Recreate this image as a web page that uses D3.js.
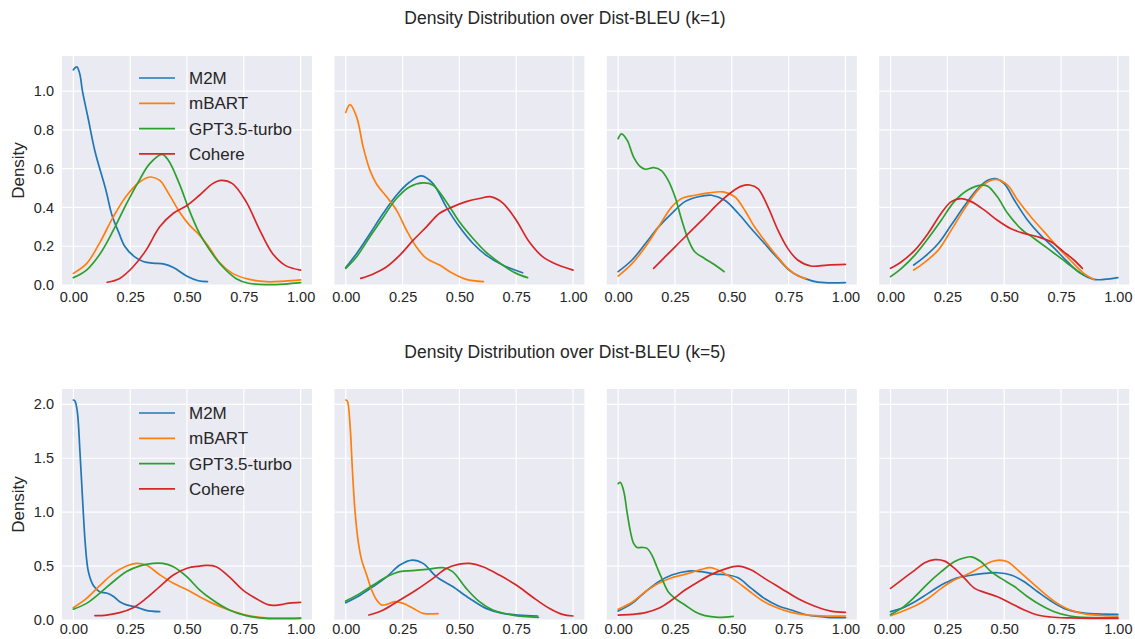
<!DOCTYPE html>
<html>
<head>
<meta charset="utf-8">
<script src="https://cdn.jsdelivr.net/npm/d3@7"></script>
<style>
  body { margin: 0; background: #fff; }
  svg { display: block; font-family: Arial, "Liberation Sans", sans-serif; }
</style>
</head>
<body>
<svg id="chart" width="1135" height="639"></svg>
<script>
// ---------- data ----------
const categories = ["M2M", "mBART", "GPT3.5-turbo", "Cohere"];
const colors = ["#1f77b4", "#ff7f0e", "#2ca02c", "#d62728"];
const titles = ["Density Distribution over Dist-BLEU (k=1)", "Density Distribution over Dist-BLEU (k=5)"];
const xTicks = [0, 0.25, 0.5, 0.75, 1.0];
const yTicksK1 = [0, 0.2, 0.4, 0.6, 0.8, 1.0];
const yTicksK5 = [0, 0.5, 1.0, 1.5, 2.0];

// k=1, panel 1
const k1p1_M2M = [[0,1.11],[0.015,1.125],[0.028,1.09],[0.04,1.0],[0.065,0.86],[0.095,0.69],[0.143,0.49],[0.17,0.36],[0.2,0.27],[0.226,0.2],[0.27,0.145],[0.31,0.12],[0.35,0.113],[0.40,0.108],[0.44,0.09],[0.50,0.045],[0.55,0.022],[0.59,0.017]];
const k1p1_mBART = [[0,0.06],[0.058,0.11],[0.117,0.22],[0.175,0.35],[0.234,0.46],[0.29,0.53],[0.336,0.557],[0.38,0.54],[0.42,0.47],[0.467,0.377],[0.51,0.31],[0.555,0.257],[0.6,0.19],[0.64,0.12],[0.70,0.06],[0.77,0.03],[0.85,0.017],[0.93,0.02],[1.0,0.026]];
const k1p1_GPT = [[0,0.038],[0.058,0.077],[0.117,0.16],[0.175,0.28],[0.234,0.42],[0.29,0.54],[0.336,0.626],[0.39,0.674],[0.42,0.64],[0.467,0.52],[0.51,0.386],[0.555,0.266],[0.6,0.18],[0.657,0.094],[0.715,0.034],[0.77,0.009],[0.85,0.002],[0.93,0.005],[1.0,0.012]];
const k1p1_Cohere = [[0.149,0.014],[0.204,0.034],[0.263,0.094],[0.32,0.18],[0.38,0.30],[0.44,0.37],[0.50,0.41],[0.555,0.463],[0.613,0.523],[0.65,0.54],[0.70,0.523],[0.76,0.43],[0.82,0.283],[0.876,0.163],[0.934,0.10],[1.0,0.077]];

// k=1, panel 2
const k1p2_M2M = [[0,0.09],[0.048,0.163],[0.107,0.266],[0.165,0.37],[0.223,0.463],[0.28,0.53],[0.333,0.563],[0.384,0.523],[0.442,0.403],[0.5,0.30],[0.56,0.214],[0.617,0.154],[0.69,0.103],[0.778,0.063]];
const k1p2_mBART = [[0,0.89],[0.019,0.93],[0.048,0.866],[0.077,0.71],[0.107,0.59],[0.136,0.52],[0.18,0.455],[0.223,0.386],[0.267,0.283],[0.31,0.197],[0.355,0.137],[0.413,0.103],[0.47,0.06],[0.53,0.029],[0.606,0.017]];
const k1p2_GPT = [[0,0.086],[0.048,0.146],[0.107,0.25],[0.165,0.35],[0.223,0.446],[0.28,0.506],[0.34,0.527],[0.384,0.515],[0.442,0.43],[0.5,0.326],[0.56,0.24],[0.617,0.17],[0.69,0.103],[0.75,0.06],[0.8,0.038]];
const k1p2_Cohere = [[0.066,0.034],[0.121,0.057],[0.18,0.094],[0.238,0.154],[0.296,0.23],[0.355,0.30],[0.413,0.37],[0.47,0.403],[0.53,0.43],[0.588,0.446],[0.64,0.455],[0.69,0.424],[0.75,0.334],[0.807,0.223],[0.866,0.146],[0.924,0.108],[1.0,0.077]];

// k=1, panel 3
const k1p3_M2M = [[0,0.069],[0.061,0.129],[0.12,0.214],[0.178,0.30],[0.236,0.37],[0.294,0.43],[0.353,0.455],[0.411,0.463],[0.469,0.437],[0.528,0.37],[0.586,0.29],[0.644,0.214],[0.703,0.137],[0.761,0.069],[0.82,0.034],[0.878,0.015],[1.0,0.012]];
const k1p3_mBART = [[0,0.046],[0.061,0.11],[0.12,0.197],[0.178,0.30],[0.236,0.403],[0.28,0.446],[0.338,0.463],[0.397,0.475],[0.462,0.48],[0.513,0.455],[0.557,0.386],[0.6,0.30],[0.644,0.23],[0.695,0.154],[0.746,0.086],[0.79,0.048],[0.827,0.033]];
const k1p3_GPT = [[0,0.755],[0.015,0.78],[0.04,0.746],[0.068,0.66],[0.098,0.61],[0.12,0.597],[0.156,0.605],[0.19,0.59],[0.22,0.54],[0.25,0.455],[0.28,0.334],[0.31,0.23],[0.338,0.17],[0.38,0.137],[0.426,0.103],[0.466,0.069]];
const k1p3_Cohere = [[0.156,0.086],[0.207,0.146],[0.265,0.214],[0.324,0.283],[0.382,0.35],[0.44,0.42],[0.5,0.48],[0.542,0.51],[0.579,0.516],[0.615,0.497],[0.659,0.403],[0.703,0.283],[0.746,0.189],[0.79,0.129],[0.848,0.098],[0.921,0.103],[1.0,0.106]];

// k=1, panel 4
const k1p4_M2M = [[0.102,0.103],[0.15,0.146],[0.21,0.214],[0.267,0.309],[0.326,0.41],[0.384,0.497],[0.428,0.54],[0.461,0.549],[0.5,0.523],[0.545,0.437],[0.603,0.334],[0.66,0.257],[0.72,0.19],[0.778,0.12],[0.836,0.06],[0.895,0.029],[0.94,0.029],[1.0,0.038]];
const k1p4_mBART = [[0.102,0.077],[0.15,0.117],[0.21,0.18],[0.267,0.283],[0.326,0.394],[0.384,0.489],[0.428,0.532],[0.47,0.544],[0.515,0.515],[0.56,0.437],[0.617,0.352],[0.676,0.274],[0.734,0.197],[0.79,0.129],[0.85,0.06],[0.895,0.029]];
const k1p4_GPT = [[0,0.043],[0.048,0.086],[0.107,0.154],[0.165,0.24],[0.223,0.334],[0.28,0.43],[0.34,0.49],[0.4,0.515],[0.428,0.51],[0.47,0.455],[0.515,0.37],[0.574,0.29],[0.632,0.24],[0.69,0.19],[0.75,0.137],[0.807,0.086],[0.85,0.051]];
const k1p4_Cohere = [[0,0.086],[0.048,0.12],[0.107,0.18],[0.165,0.266],[0.223,0.37],[0.267,0.43],[0.31,0.446],[0.355,0.43],[0.413,0.386],[0.47,0.334],[0.53,0.29],[0.588,0.266],[0.647,0.249],[0.705,0.223],[0.763,0.17],[0.807,0.129],[0.844,0.086]];

// k=5, panel 1
const k5p1_M2M = [[0,2.04],[0.007,2.03],[0.0175,1.93],[0.029,1.56],[0.041,1.10],[0.053,0.69],[0.066,0.45],[0.088,0.32],[0.117,0.26],[0.146,0.25],[0.175,0.22],[0.204,0.17],[0.234,0.14],[0.277,0.12],[0.32,0.09],[0.38,0.077]];
const k5p1_mBART = [[0,0.114],[0.058,0.2],[0.117,0.32],[0.175,0.43],[0.234,0.50],[0.277,0.525],[0.32,0.51],[0.38,0.42],[0.44,0.34],[0.5,0.28],[0.555,0.216],[0.613,0.154],[0.686,0.093],[0.76,0.046],[0.847,0.02],[1.0,0.02]];
const k5p1_GPT = [[0,0.10],[0.058,0.154],[0.117,0.25],[0.175,0.355],[0.234,0.45],[0.29,0.50],[0.35,0.525],[0.394,0.525],[0.44,0.494],[0.5,0.40],[0.555,0.28],[0.613,0.185],[0.686,0.093],[0.76,0.04],[0.847,0.015],[1.0,0.015]];
const k5p1_Cohere = [[0.095,0.04],[0.146,0.046],[0.204,0.068],[0.263,0.114],[0.32,0.2],[0.38,0.31],[0.44,0.417],[0.5,0.48],[0.555,0.50],[0.584,0.506],[0.628,0.494],[0.686,0.40],[0.745,0.28],[0.803,0.2],[0.86,0.14],[0.905,0.14],[0.949,0.157],[1.0,0.164]];

// k=5, panel 2
const k5p2_M2M = [[0,0.16],[0.063,0.23],[0.121,0.31],[0.18,0.40],[0.238,0.51],[0.293,0.556],[0.34,0.525],[0.4,0.40],[0.47,0.31],[0.545,0.20],[0.617,0.108],[0.69,0.062],[0.763,0.046],[0.844,0.037]];
const k5p2_mBART = [[0,2.04],[0.007,2.03],[0.019,1.8],[0.029,1.40],[0.041,1.0],[0.055,0.725],[0.07,0.555],[0.092,0.417],[0.114,0.278],[0.136,0.185],[0.158,0.139],[0.18,0.145],[0.216,0.17],[0.253,0.154],[0.296,0.108],[0.34,0.062],[0.406,0.059]];
const k5p2_GPT = [[0,0.176],[0.063,0.247],[0.121,0.324],[0.18,0.40],[0.238,0.448],[0.293,0.457],[0.355,0.469],[0.428,0.485],[0.47,0.448],[0.53,0.293],[0.588,0.17],[0.647,0.093],[0.734,0.046],[0.848,0.025]];
const k5p2_Cohere = [[0.102,0.046],[0.165,0.093],[0.238,0.185],[0.31,0.278],[0.384,0.386],[0.442,0.478],[0.5,0.518],[0.545,0.525],[0.603,0.494],[0.676,0.417],[0.75,0.324],[0.82,0.216],[0.895,0.108],[0.953,0.052],[1.0,0.037]];

// k=5, panel 3
const k5p3_M2M = [[0,0.083],[0.061,0.154],[0.12,0.262],[0.178,0.355],[0.236,0.417],[0.309,0.454],[0.367,0.448],[0.426,0.426],[0.484,0.417],[0.528,0.392],[0.586,0.293],[0.644,0.2],[0.703,0.133],[0.761,0.093],[0.834,0.046],[0.921,0.025],[1.0,0.022]];
const k5p3_mBART = [[0,0.1],[0.061,0.164],[0.12,0.262],[0.178,0.34],[0.236,0.392],[0.309,0.432],[0.367,0.469],[0.404,0.485],[0.455,0.448],[0.513,0.37],[0.571,0.278],[0.63,0.185],[0.688,0.123],[0.761,0.071],[0.834,0.046],[0.921,0.037],[1.0,0.037]];
const k5p3_GPT = [[0,1.265],[0.01,1.275],[0.025,1.19],[0.039,1.0],[0.054,0.82],[0.068,0.71],[0.083,0.673],[0.105,0.673],[0.127,0.664],[0.149,0.60],[0.17,0.494],[0.192,0.386],[0.22,0.262],[0.25,0.2],[0.294,0.139],[0.338,0.077],[0.382,0.04],[0.44,0.025],[0.506,0.034]];
const k5p3_Cohere = [[0,0.046],[0.061,0.052],[0.12,0.068],[0.178,0.108],[0.236,0.185],[0.294,0.278],[0.353,0.355],[0.411,0.423],[0.469,0.472],[0.528,0.50],[0.586,0.463],[0.644,0.386],[0.717,0.293],[0.79,0.2],[0.863,0.13],[0.936,0.083],[1.0,0.071]];

// k=5, panel 4
const k5p4_M2M = [[0,0.077],[0.048,0.108],[0.107,0.17],[0.165,0.247],[0.223,0.324],[0.28,0.38],[0.34,0.41],[0.413,0.432],[0.47,0.438],[0.53,0.417],[0.588,0.355],[0.647,0.262],[0.705,0.176],[0.763,0.108],[0.836,0.068],[0.91,0.056],[1.0,0.052]];
const k5p4_mBART = [[0,0.04],[0.048,0.077],[0.107,0.13],[0.165,0.2],[0.223,0.293],[0.28,0.37],[0.34,0.426],[0.4,0.494],[0.442,0.54],[0.48,0.556],[0.515,0.54],[0.56,0.463],[0.617,0.355],[0.676,0.247],[0.734,0.154],[0.79,0.093],[0.866,0.052],[1.0,0.037]];
const k5p4_GPT = [[0,0.052],[0.048,0.108],[0.107,0.216],[0.165,0.34],[0.223,0.448],[0.28,0.54],[0.326,0.577],[0.355,0.586],[0.398,0.54],[0.442,0.448],[0.486,0.386],[0.545,0.31],[0.603,0.216],[0.66,0.139],[0.72,0.077],[0.79,0.037],[0.88,0.022],[1.0,0.022]];
const k5p4_Cohere = [[0,0.293],[0.048,0.37],[0.107,0.463],[0.15,0.53],[0.194,0.559],[0.238,0.546],[0.282,0.478],[0.326,0.386],[0.37,0.293],[0.413,0.256],[0.47,0.216],[0.53,0.154],[0.588,0.093],[0.647,0.046],[0.705,0.028],[0.79,0.019],[0.88,0.015],[1.0,0.015]];

// ---------- build ----------
const rows = [
  { title: titles[0], yTicks: yTicksK1, yFmt: d3.format(".1f"),
    panels: [
      [k1p1_M2M, k1p1_mBART, k1p1_GPT, k1p1_Cohere],
      [k1p2_M2M, k1p2_mBART, k1p2_GPT, k1p2_Cohere],
      [k1p3_M2M, k1p3_mBART, k1p3_GPT, k1p3_Cohere],
      [k1p4_M2M, k1p4_mBART, k1p4_GPT, k1p4_Cohere]] },
  { title: titles[1], yTicks: yTicksK5, yFmt: d3.format(".1f"),
    panels: [
      [k5p1_M2M, k5p1_mBART, k5p1_GPT, k5p1_Cohere],
      [k5p2_M2M, k5p2_mBART, k5p2_GPT, k5p2_Cohere],
      [k5p3_M2M, k5p3_mBART, k5p3_GPT, k5p3_Cohere],
      [k5p4_M2M, k5p4_mBART, k5p4_GPT, k5p4_Cohere]] }
];

const svg = d3.select("#chart");
const textColor = "#262626";
const panelLefts = [62, 334.4, 606.8, 879.2];
const panelW = 250;
const rowLayout = [
  { top: 56, bottom: 285, titleY: 24, legendY: 78, xPad: 7 },
  { top: 389, bottom: 620, titleY: 358, legendY: 413, xPad: 4 }
];

rows.forEach((row, ri) => {
  const L = rowLayout[ri];
  const allY = row.panels.flatMap(p => p.flatMap(s => s.map(d => d[1])));
  const yMax = d3.max(allY) * 1.05;
  const y = d3.scaleLinear().domain([0, yMax]).range([L.bottom, L.top]);

  svg.append("text")
    .attr("x", 565).attr("y", L.titleY)
    .attr("text-anchor", "middle")
    .attr("font-size", 17.5).attr("fill", textColor)
    .text(row.title);

  row.panels.forEach((series, pi) => {
    const x0 = panelLefts[pi];
    const x = d3.scaleLinear().domain([-0.05, 1.05]).range([x0, x0 + panelW]);
    const g = svg.append("g");

    g.append("rect")
      .attr("x", x0).attr("y", L.top)
      .attr("width", panelW).attr("height", L.bottom - L.top)
      .attr("fill", "#EAEAF2");

    // grid
    g.selectAll(".vg").data(xTicks).join("line")
      .attr("x1", d => x(d)).attr("x2", d => x(d))
      .attr("y1", L.top).attr("y2", L.bottom)
      .attr("stroke", "#fff").attr("stroke-width", 1.2);
    g.selectAll(".hg").data(row.yTicks).join("line")
      .attr("x1", x0).attr("x2", x0 + panelW)
      .attr("y1", d => y(d)).attr("y2", d => y(d))
      .attr("stroke", "#fff").attr("stroke-width", 1.2);

    // x axis
    const xAxis = d3.axisBottom(x).tickValues(xTicks).tickFormat(d3.format(".2f")).tickSize(0).tickPadding(L.xPad);
    const xg = g.append("g").attr("transform", `translate(0,${L.bottom})`).call(xAxis);
    xg.select(".domain").remove();
    xg.selectAll("text").attr("font-size", 14.5).attr("fill", textColor).attr("font-family", "Arial, 'Liberation Sans', sans-serif");

    if (pi === 0) {
      const yAxis = d3.axisLeft(y).tickValues(row.yTicks).tickFormat(row.yFmt).tickSize(0).tickPadding(8);
      const yg = g.append("g").attr("transform", `translate(${x0},0)`).call(yAxis);
      yg.select(".domain").remove();
      yg.selectAll("text").attr("font-size", 14.5).attr("fill", textColor).attr("font-family", "Arial, 'Liberation Sans', sans-serif");

      svg.append("text")
        .attr("transform", `translate(24,${(L.top + L.bottom) / 2}) rotate(-90)`)
        .attr("text-anchor", "middle")
        .attr("font-size", 17).attr("fill", textColor)
        .text("Density");
    }

    const line = d3.line().x(d => x(d[0])).y(d => y(d[1])).curve(d3.curveCatmullRom.alpha(0.5));
    series.forEach((s, si) => {
      g.append("path").datum(s)
        .attr("d", line)
        .attr("fill", "none")
        .attr("stroke", colors[si])
        .attr("stroke-width", 1.7)
        .attr("stroke-linejoin", "round")
        .attr("stroke-linecap", "round");
    });

    if (pi === 0) {
      const lg = g.append("g");
      categories.forEach((c, ci) => {
        const ly = L.legendY + ci * 25.3;
        lg.append("line")
          .attr("x1", 139).attr("x2", 175).attr("y1", ly).attr("y2", ly)
          .attr("stroke", colors[ci]).attr("stroke-width", 1.7);
        lg.append("text")
          .attr("x", 189).attr("y", ly).attr("dy", "0.36em")
          .attr("font-size", 17).attr("fill", textColor)
          .text(c);
      });
    }
  });
});
</script>
</body>
</html>
